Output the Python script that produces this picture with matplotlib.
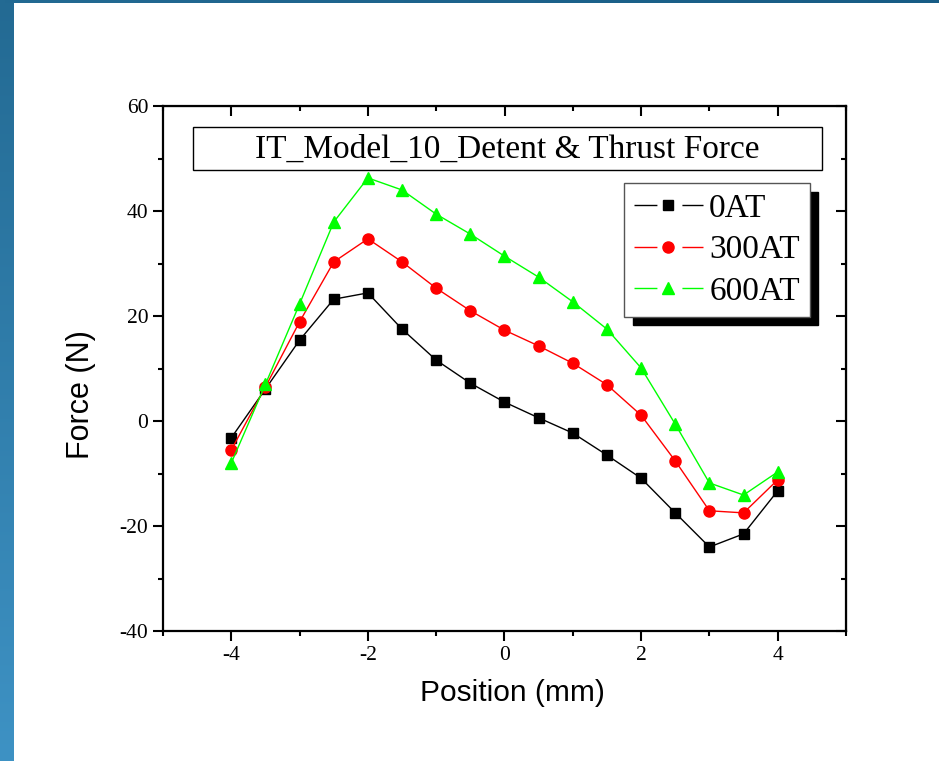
import numpy as np
import matplotlib
matplotlib.use("Agg")
import matplotlib.pyplot as plt
from matplotlib.patches import Rectangle
from matplotlib.lines import Line2D
from matplotlib.legend_handler import HandlerTuple
from matplotlib.ticker import MultipleLocator

plt.rcParams['axes.unicode_minus'] = False

position = [-4, -3.5, -3, -2.5, -2, -1.5, -1, -0.5, 0, 0.5, 1, 1.5, 2, 2.5, 3, 3.5, 4]
force_0at = [-3.2, 6.1, 15.4, 23.2, 24.4, 17.5, 11.6, 7.2, 3.6, 0.6, -2.3, -6.5, -10.9, -17.5, -24.0, -21.5, -13.3]
force_300at = [-5.5, 6.5, 18.9, 30.3, 34.7, 30.3, 25.3, 21.0, 17.3, 14.3, 11.0, 6.9, 1.1, -7.6, -17.1, -17.5, -11.2]
force_600at = [-8.0, 7.0, 22.3, 37.9, 46.3, 44.0, 39.4, 35.6, 31.4, 27.4, 22.7, 17.5, 10.1, -0.6, -11.8, -14.1, -9.7]
labels = ['0AT', '300AT', '600AT']
colors = ['black', 'red', '#00ff00']
markers = [('s', 7), ('o', 8), ('^', 9)]

fig = plt.figure(figsize=(9.39, 7.61), dpi=100)
fig.patch.set_facecolor('white')

# slide border: blue gradient strip on the left, thin bar on top
side = fig.add_axes([0, 0, 14 / 939, 1])
grad = np.linspace(0, 1, 256).reshape(-1, 1)
side.imshow(grad, aspect='auto', cmap=matplotlib.colors.LinearSegmentedColormap.from_list(
    'b', ['#236a93', '#3e92c4']), extent=[0, 1, 0, 1])
side.axis('off')
top = fig.add_axes([0, 1 - 3 / 761, 1, 3 / 761])
top.imshow(np.linspace(0, 1, 256).reshape(1, -1), aspect='auto',
           cmap=matplotlib.colors.LinearSegmentedColormap.from_list('t', ['#236a93', '#175c85']))
top.axis('off')

ax = fig.add_axes([163 / 939, 1 - 631 / 761, 683 / 939, 525 / 761])

handles = []
for ys, lab, c, (m, ms) in zip([force_0at, force_300at, force_600at], labels, colors, markers):
    ax.plot(position, ys, color=c, lw=1, marker=m, ms=ms)
    seg = Line2D([], [], color=c, lw=1, dashes=(16.5, 18, 16.5, 100))
    mk = Line2D([], [], color=c, marker=m, ms=ms, ls='none')
    handles.append((seg, mk))

ax.set_xlim(-5, 5)
ax.set_ylim(-40, 60)
ax.xaxis.set_major_locator(MultipleLocator(2))
ax.xaxis.set_minor_locator(MultipleLocator(1))
ax.yaxis.set_major_locator(MultipleLocator(20))
ax.yaxis.set_minor_locator(MultipleLocator(10))
for s in ax.spines.values():
    s.set_linewidth(1.6)

ax.tick_params(which='both', direction='out', width=1.5, labelsize=15.5,
               top=False, right=False, pad=3.5)
ax.tick_params(which='major', length=7.2)
ax.tick_params(which='minor', length=3.6)
for lab in ax.get_xticklabels() + ax.get_yticklabels():
    lab.set_fontfamily('Liberation Serif')

# inward ticks on top and right
sec = ax.secondary_xaxis('top')
sec.xaxis.set_major_locator(MultipleLocator(2))
sec.xaxis.set_minor_locator(MultipleLocator(1))
sec.tick_params(which='both', direction='in', width=1.5, labeltop=False)
sec.tick_params(which='major', length=7.2)
sec.tick_params(which='minor', length=3.6)
secy = ax.secondary_yaxis('right')
secy.yaxis.set_major_locator(MultipleLocator(20))
secy.yaxis.set_minor_locator(MultipleLocator(10))
secy.tick_params(which='both', direction='in', width=1.5, labelright=False)
secy.tick_params(which='major', length=7.2)
secy.tick_params(which='minor', length=3.6)

ax.set_xlabel('Position (mm)', fontfamily='Liberation Sans', fontsize=21.5)
ax.set_ylabel('Force (N)', fontfamily='Liberation Sans', fontsize=22)
ax.xaxis.set_label_coords(0.511, -0.091)
ax.yaxis.set_label_coords(-0.12, 0.451)
ax.yaxis.label.set_va('center')

ax.add_patch(Rectangle((0.044, 0.878), 0.921, 0.082, transform=ax.transAxes,
                       facecolor='white', edgecolor='black', lw=1, zorder=5))
ax.text(0.504, 0.918, 'IT_Model_10_Detent & Thrust Force', transform=ax.transAxes,
        ha='center', va='center', fontfamily='Liberation Serif', fontsize=24, zorder=6)

leg = ax.legend(handles, labels, handler_map={tuple: HandlerTuple(ndivide=1)},
                loc='upper right', bbox_to_anchor=(0.947, 0.853), borderaxespad=0,
                prop={'family': 'Liberation Serif', 'size': 24}, fancybox=False,
                shadow={'color': 'black', 'alpha': 1, 'ox': 6, 'oy': -6},
                edgecolor='#555555', framealpha=1, handlelength=2.05,
                handletextpad=0.2, labelspacing=0.33, borderpad=0.3)
leg.get_frame().set_linewidth(1)

fig.savefig('out.png', dpi=100)
